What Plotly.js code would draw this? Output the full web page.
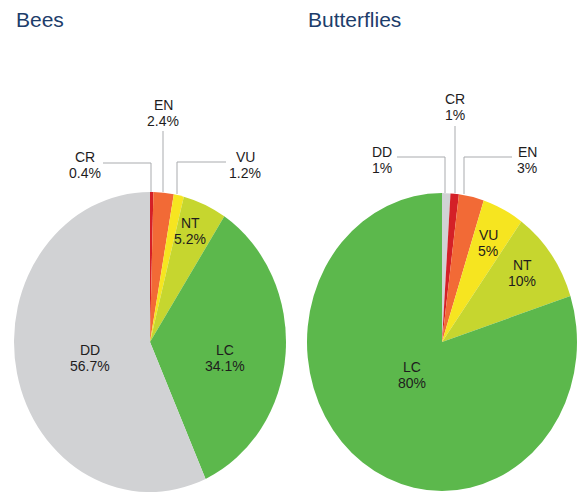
<!DOCTYPE html>
<html>
<head>
<meta charset="utf-8">
<script src="https://cdn.plot.ly/plotly-3.0.1.min.js"></script>
<style>
html,body{margin:0;padding:0;background:#fff;}
#chart{width:584px;height:493px;}
</style>
</head>
<body>
<div id="chart"></div>
<script>
// ---- data ----
var beeLabels = ["CR", "EN", "VU", "NT", "LC", "DD"];
var beeValues = [0.4, 2.4, 1.2, 5.2, 34.1, 56.7];
var butterflyLabels = ["DD", "CR", "EN", "VU", "NT", "LC"];
var butterflyValues = [1, 1, 3, 5, 10, 80];
var panelTitles = ["Bees", "Butterflies"];
var categoryColors = {
  CR: "#d42027", EN: "#f26a36", VU: "#f6e520",
  NT: "#c6d62f", LC: "#5cb84c", DD: "#d1d2d4"
};

// ---- layout helpers ----
var W = 584, H = 493;
var K = 1.103; // vertical stretch of the pies (the originals are slightly oval)
function px(x){ return x / W; }
function py(y){ return 1 - y / H; }

var FONT = '"Liberation Sans", Arial, Helvetica, sans-serif';
var TXT = "#1e1c1d";
var LINE = "#a9abae";

function pieTrace(labels, values, dom){
  return {
    type: "pie",
    labels: labels,
    values: values,
    sort: false,
    direction: "clockwise",
    rotation: 0,
    textinfo: "none",
    hoverinfo: "label+value",
    marker: { colors: labels.map(function(l){ return categoryColors[l]; }), line: { width: 0 } },
    domain: { x: [px(dom[0]), px(dom[1])], y: [py(dom[3]), py(dom[2])] },
    showlegend: false
  };
}

var data = [
  pieTrace(beeLabels, beeValues, [14, 286, 206, 478]),
  pieTrace(butterflyLabels, butterflyValues, [307, 577, 207, 477])
];

// label positions (pixel centres) for each category, per panel
var beeLabelPos = { CR: [85, 165], EN: [163, 113], VU: [245, 165], NT: [190, 231], LC: [225, 358], DD: [90, 358] };
var butterflyLabelPos = { DD: [382, 160], CR: [455, 107], EN: [527, 160], VU: [488, 243], NT: [522, 273], LC: [412, 375] };
var HALF_GAP = 8.2;

var annotations = [];
function addLabels(labels, values, pos){
  labels.forEach(function(l, i){
    var p = pos[l];
    [[l, p[1] - HALF_GAP], [values[i] + "%", p[1] + HALF_GAP]].forEach(function(t){
      annotations.push({
        xref: "paper", yref: "paper", x: px(p[0]), y: py(t[1]),
        xanchor: "center", yanchor: "middle", showarrow: false,
        text: t[0],
        font: { family: FONT, size: 14, color: TXT }
      });
    });
  });
}
addLabels(beeLabels, beeValues, beeLabelPos);
addLabels(butterflyLabels, butterflyValues, butterflyLabelPos);

[[panelTitles[0], 14], [panelTitles[1], 306]].forEach(function(t){
  annotations.push({
    xref: "paper", yref: "paper", x: px(t[1]), y: py(19.5),
    xanchor: "left", yanchor: "middle", showarrow: false,
    text: t[0], font: { family: FONT, size: 21, color: "#1d3d6b" }
  });
});

// leader lines (pixel coordinates)
var leaders = [
  [[103,163],[151,163],[151,192]],
  [[163,131],[163,192]],
  [[226,162],[177,162],[177,194]],
  [[397,157],[445,157],[445,193]],
  [[455,126],[455,193]],
  [[512,157],[464,157],[464,194]]
];
var shapes = [];
leaders.forEach(function(pts){
  for (var i = 0; i < pts.length - 1; i++){
    shapes.push({
      type: "line", xref: "paper", yref: "paper",
      x0: px(pts[i][0]), y0: py(pts[i][1]), x1: px(pts[i+1][0]), y1: py(pts[i+1][1]),
      line: { color: LINE, width: 1 }
    });
  }
});

var layout = {
  width: W, height: H,
  margin: { l: 0, r: 0, t: 0, b: 0 },
  paper_bgcolor: "#ffffff",
  plot_bgcolor: "#ffffff",
  annotations: annotations,
  shapes: shapes,
  font: { family: FONT }
};

var gd = document.getElementById("chart");
Plotly.newPlot(gd, data, layout, { displayModeBar: false, staticPlot: true }).then(function(){
  var traces = gd.querySelectorAll(".pielayer .trace");
  traces.forEach(function(tr, i){
    var cy = gd.calcdata[i][0].cy;
    tr.setAttribute("transform", "translate(0," + cy + ") scale(1," + K + ") translate(0," + (-cy) + ")");
  });
});
</script>
</body>
</html>
